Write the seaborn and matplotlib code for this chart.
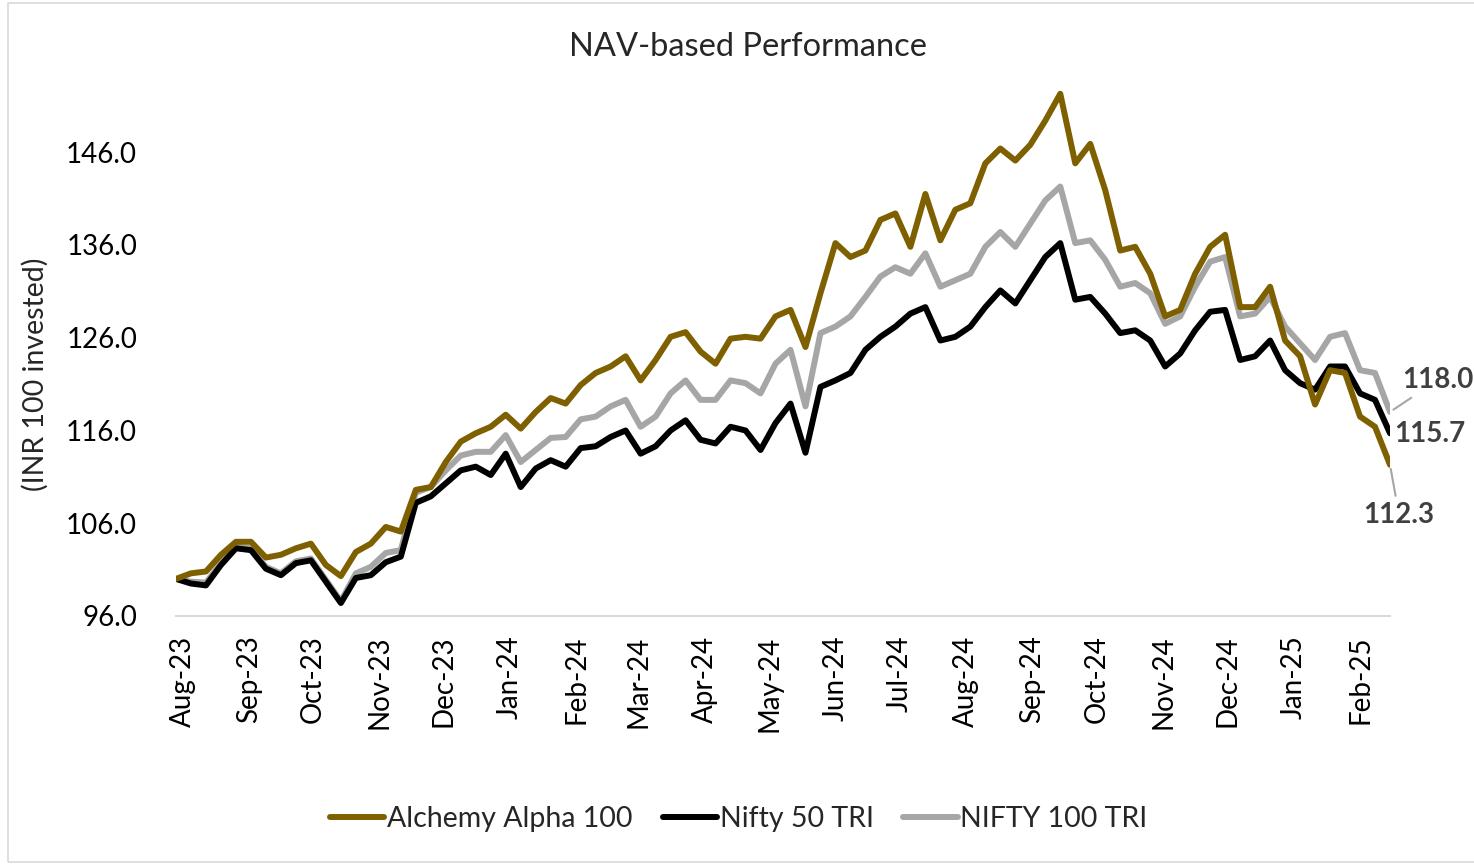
import pandas as pd
import matplotlib.pyplot as plt
import matplotlib.dates as mdates
from matplotlib.patches import Rectangle
import seaborn as sns

# =========================
# DATA (weekly readings, rebased to 100)
# =========================
dates = pd.date_range("2023-07-29", periods=82, freq="7D")

alchemy = [
    100.0, 100.6, 100.8, 102.6, 104.0, 104.0, 102.3, 102.6, 103.3, 103.8,
    101.5, 100.3, 102.9, 103.8, 105.6, 105.1, 109.6, 109.9, 112.6, 114.8,
    115.7, 116.4, 117.7, 116.2, 118.0, 119.5, 118.9, 120.9, 122.2, 122.9,
    124.0, 121.4, 123.6, 126.1, 126.6, 124.5, 123.2, 125.9, 126.1, 125.9,
    128.3, 129.0, 125.0, 130.8, 136.2, 134.7, 135.4, 138.7, 139.4, 135.8,
    141.5, 136.5, 139.8, 140.5, 144.8, 146.4, 145.1, 146.8, 149.4, 152.3,
    144.8, 146.9, 141.9, 135.4, 135.8, 132.9, 128.3, 129.0, 132.9, 135.8,
    137.1, 129.3, 129.3, 131.5, 125.7, 124.0, 118.8, 122.5, 122.2, 117.5,
    116.4, 112.3,
]
nifty50 = [
    100.0, 99.5, 99.3, 101.5, 103.3, 103.1, 101.1, 100.4, 101.7, 102.0,
    99.7, 97.4, 100.1, 100.4, 101.8, 102.4, 108.2, 108.9, 110.3, 111.7,
    112.1, 111.2, 113.5, 109.9, 111.9, 112.8, 112.1, 114.1, 114.3, 115.3,
    116.0, 113.5, 114.3, 116.0, 117.1, 115.0, 114.6, 116.4, 116.0, 113.9,
    116.8, 118.9, 113.6, 120.7, 121.4, 122.2, 124.7, 126.1, 127.2, 128.6,
    129.3, 125.7, 126.1, 127.2, 129.3, 131.1, 129.7, 132.2, 134.7, 136.2,
    130.1, 130.4, 128.6, 126.5, 126.8, 125.7, 122.9, 124.3, 126.8, 128.8,
    129.0, 123.6, 124.0, 125.7, 122.5, 121.1, 120.4, 122.9, 122.9, 120.0,
    119.3, 115.7,
]
nifty100 = [
    100.0, 99.7, 99.6, 101.7, 103.5, 103.3, 101.3, 100.6, 101.9, 102.2,
    99.9, 97.6, 100.6, 101.3, 102.8, 103.1, 109.3, 109.9, 111.7, 113.3,
    113.7, 113.7, 115.5, 112.6, 113.9, 115.2, 115.3, 117.2, 117.5, 118.6,
    119.3, 116.4, 117.5, 120.0, 121.4, 119.3, 119.3, 121.4, 121.1, 120.0,
    123.2, 124.7, 118.6, 126.5, 127.2, 128.3, 130.4, 132.6, 133.6, 132.9,
    135.1, 131.5, 132.2, 132.9, 135.8, 137.4, 135.8, 138.3, 140.8, 142.3,
    136.2, 136.5, 134.4, 131.5, 131.9, 130.8, 127.5, 128.3, 131.5, 134.2,
    134.7, 128.3, 128.6, 130.4, 127.2, 125.4, 123.6, 126.1, 126.5, 122.5,
    122.2, 118.0,
]

series_names = ["Alchemy Alpha 100", "Nifty 50 TRI", "NIFTY 100 TRI"]
colors = ["#7F6000", "#000000", "#A6A6A6"]

df = pd.DataFrame({
    "date": list(dates) * 3,
    "value": alchemy + nifty50 + nifty100,
    "series": [series_names[0]] * 82 + [series_names[1]] * 82 + [series_names[2]] * 82,
})

# =========================
# PLOT
# =========================
sns.set_theme(style="white")
plt.rcParams["font.family"] = ["Lato", "DejaVu Sans"]

W, H = 1474, 864
fig = plt.figure(figsize=(W / 100, H / 100), dpi=100)
ax = fig.add_axes([176 / W, 1 - 616 / H, (1390 - 176) / W, (616 - 78) / H])

sns.lineplot(
    data=df, x="date", y="value", hue="series",
    hue_order=series_names, palette=colors,
    linewidth=4.3, ax=ax, legend=True,
)
zorders = {"NIFTY 100 TRI": 2, "Nifty 50 TRI": 3, "Alchemy Alpha 100": 4}
for line, name in zip(ax.get_lines(), series_names):
    line.set_zorder(zorders[name])

ax.set_xlim(dates[0], dates[-1])
ax.set_ylim(96, 154)
ax.set_yticks([96, 106, 116, 126, 136, 146])
ax.set_yticklabels([f"{v:.1f}" for v in [96, 106, 116, 126, 136, 146]])
ax.xaxis.set_major_locator(mdates.MonthLocator())
ax.xaxis.set_major_formatter(mdates.DateFormatter("%b-%y"))
ax.tick_params(axis="x", labelrotation=90, labelsize=20, pad=14, length=0, colors="#000000")
ax.tick_params(axis="y", labelsize=20, pad=28, length=0, colors="#000000")
ax.set_xlabel("")
ax.set_ylabel("")

for side in ["top", "right", "left"]:
    ax.spines[side].set_visible(False)
ax.spines["bottom"].set_color("#D9D9D9")
ax.spines["bottom"].set_linewidth(1.5)

# end-of-line labels
ends = [(alchemy[-1], (9, -50), True), (nifty50[-1], (40, -1), False), (nifty100[-1], (48, 32), True)]
for val, (dx, dy), leader in ends:
    ax.annotate(
        f"{val:.1f}", xy=(dates[-1], val),
        xytext=(dx * 0.72, dy * 0.72), textcoords="offset points",
        ha="center", va="center", fontsize=20, fontweight="bold", color="#404040",
        arrowprops=dict(arrowstyle="-", color="#A6A6A6", lw=1.5, shrinkA=2, shrinkB=3) if leader else None,
        annotation_clip=False,
    )

fig.text(748 / W, 1 - 47 / H, "NAV-based Performance", ha="center", va="center", fontsize=23.5)
fig.text(35 / W, 1 - 374 / H, "(INR 100 invested)", ha="center", va="center",
         rotation=90, fontsize=20.5)

handles, labels = ax.get_legend_handles_labels()
ax.legend(
    handles, labels, loc="center", bbox_to_anchor=(739 / W, 1 - 819 / H),
    bbox_transform=fig.transFigure, ncol=3, frameon=False, fontsize=20.5,
    handlelength=1.9, handletextpad=0.1, columnspacing=1.05,
)
for lh in ax.get_legend().get_lines():
    lh.set_linewidth(4.3)

fig.patches.append(Rectangle((8 / W, 2 / H), 1.0, 1 - 5 / H, transform=fig.transFigure,
                             fill=False, edgecolor="#D9D9D9", linewidth=1.2))

fig.savefig("out.png", dpi=100)
